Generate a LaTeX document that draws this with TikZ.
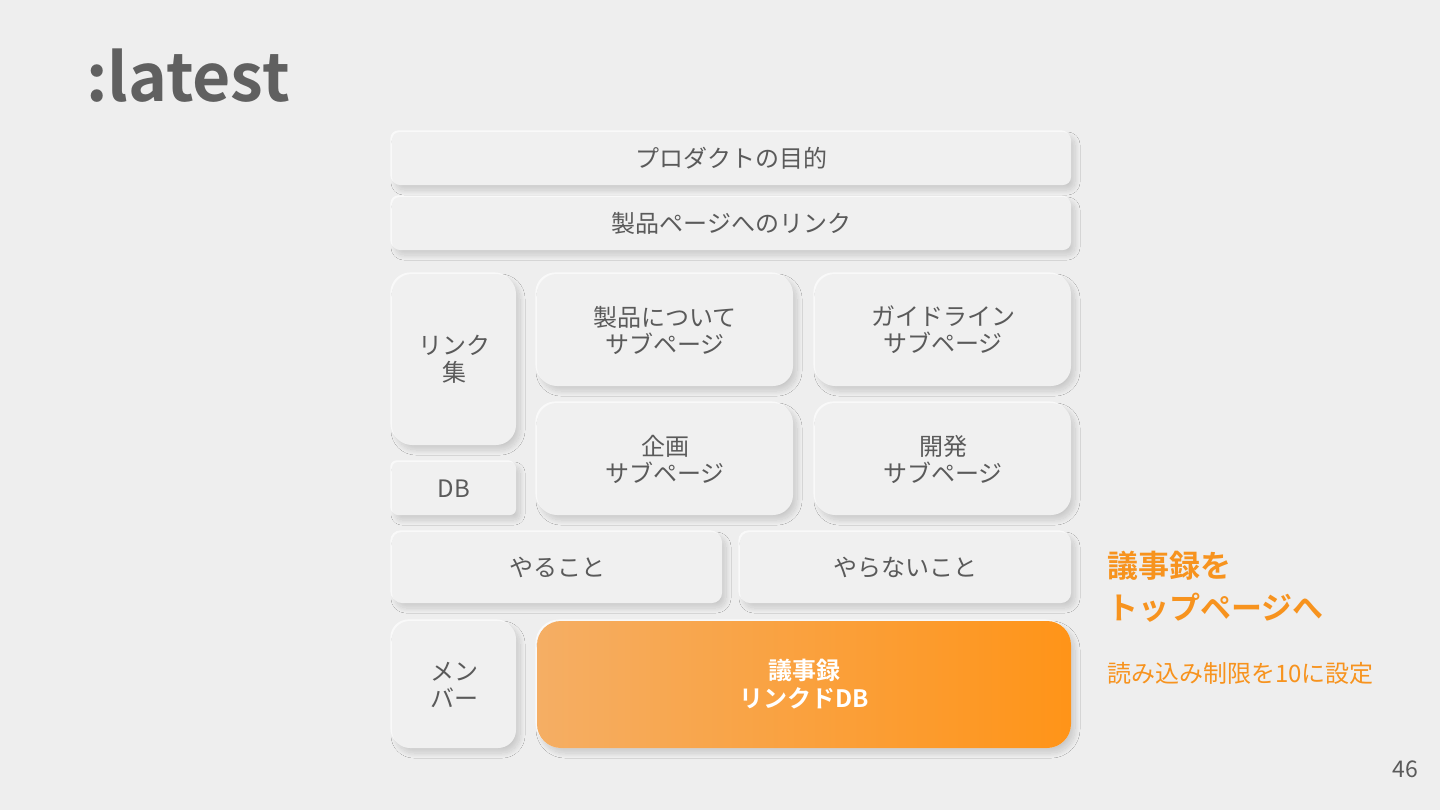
\documentclass[tikz,border=0pt]{standalone}
\usepackage{fontspec}
\setmainfont{Noto Sans CJK JP}[BoldFont={Noto Sans CJK JP Bold}]
\usetikzlibrary{positioning,shadows,shadows.blur}

\definecolor{slide}{HTML}{EEEEEE}
\definecolor{card}{HTML}{F0F0F0}
\definecolor{ink}{HTML}{5A5A5A}
\definecolor{titleink}{HTML}{606060}
\definecolor{orlight}{HTML}{F5AE64}
\definecolor{ordark}{HTML}{FF9418}
\definecolor{ortext}{HTML}{F7931E}

\begin{document}
\begin{tikzpicture}[outer sep=0pt,
    panel/.style={rectangle,rounded corners=4pt,fill=card,text=ink,inner sep=0pt,align=center,
        font=\fontsize{12}{13.5}\selectfont,
        blur shadow={shadow xshift=2pt,shadow yshift=-2.5pt,shadow blur radius=2.5pt,shadow blur steps=16,shadow opacity=15},
        general shadow={fill=white,shadow xshift=-0.8pt,shadow yshift=0.8pt,opacity=0.7}},
    bar/.style={panel,minimum width=339.5pt,minimum height=26.5pt},
    narrow/.style={panel,minimum width=62pt},
    sub/.style={panel,rounded corners=10pt,minimum width=128pt,minimum height=56pt}]
    \useasboundingbox[fill=slide] (0,0) rectangle (720pt,-405pt);

    % title and page number
    \node[anchor=base west,inner sep=0pt,text=titleink,font=\fontsize{33}{33}\selectfont\bfseries] (title) at (43pt,-50.5pt) {:latest};
    \node[anchor=base east,inner sep=0pt,text=ink,font=\fontsize{11.5}{11.5}\selectfont] (page) at (709pt,-388.5pt) {46};

    % top bars
    \node[bar] (purpose) at (365.75pt,-79.25pt) {プロダクトの目的};
    \node[bar] (linkpage) [below=6pt of purpose]{製品ページへのリンク};

    % link set and sub pages
    \node[narrow,rounded corners=10pt,minimum height=85.5pt] (linkset) [below right=12pt and 0pt of linkpage.south west]{リンク\\集};
    \node[narrow,rounded corners=3pt,minimum height=26.5pt] (db) [below=8.5pt of linkset]{DB};
    \node[sub] (about) [right=10.5pt of linkset.north east,anchor=north west]{製品について\\サブページ};
    \node[sub] (guide) [right=11pt of about]{ガイドライン\\サブページ};
    \node[sub] (plan) [below=8.5pt of about]{企画\\サブページ};
    \node[sub] (dev) [below=8.5pt of guide]{開発\\サブページ};

    % to do / not to do
    \node[panel,rounded corners=5pt,minimum width=165pt,minimum height=35.5pt] (todo) [below right=8.5pt and 0pt of db.south west]{やること};
    \node[panel,rounded corners=5pt,minimum width=165.5pt,minimum height=35.5pt] (nottodo) [below left=8.5pt and 0pt of dev.south east]{やらないこと};

    % members and minutes
    \node[narrow,rounded corners=9pt,minimum height=63.5pt] (member) [below right=9pt and 0pt of todo.south west]{メン\\バー};
    \node[panel,rounded corners=12pt,minimum width=267pt,minimum height=63.5pt,
        left color=orlight,right color=ordark,text=white,font=\fontsize{12}{14}\selectfont\bfseries] (minutes) [right=10.5pt of member]{議事録\\リンクドDB};

    % note on the right
    \node[anchor=west,inner sep=0pt,align=left,text=ortext,font=\fontsize{15.5}{21}\selectfont\bfseries] (goal) at (553.5pt,-293.5pt) {議事録を\\トップページへ};
    \node[anchor=west,inner sep=0pt,text=ortext,font=\fontsize{12}{12}\selectfont] (limit) at (553.5pt,-336.5pt) {読み込み制限を10に設定};
\end{tikzpicture}
\end{document}
